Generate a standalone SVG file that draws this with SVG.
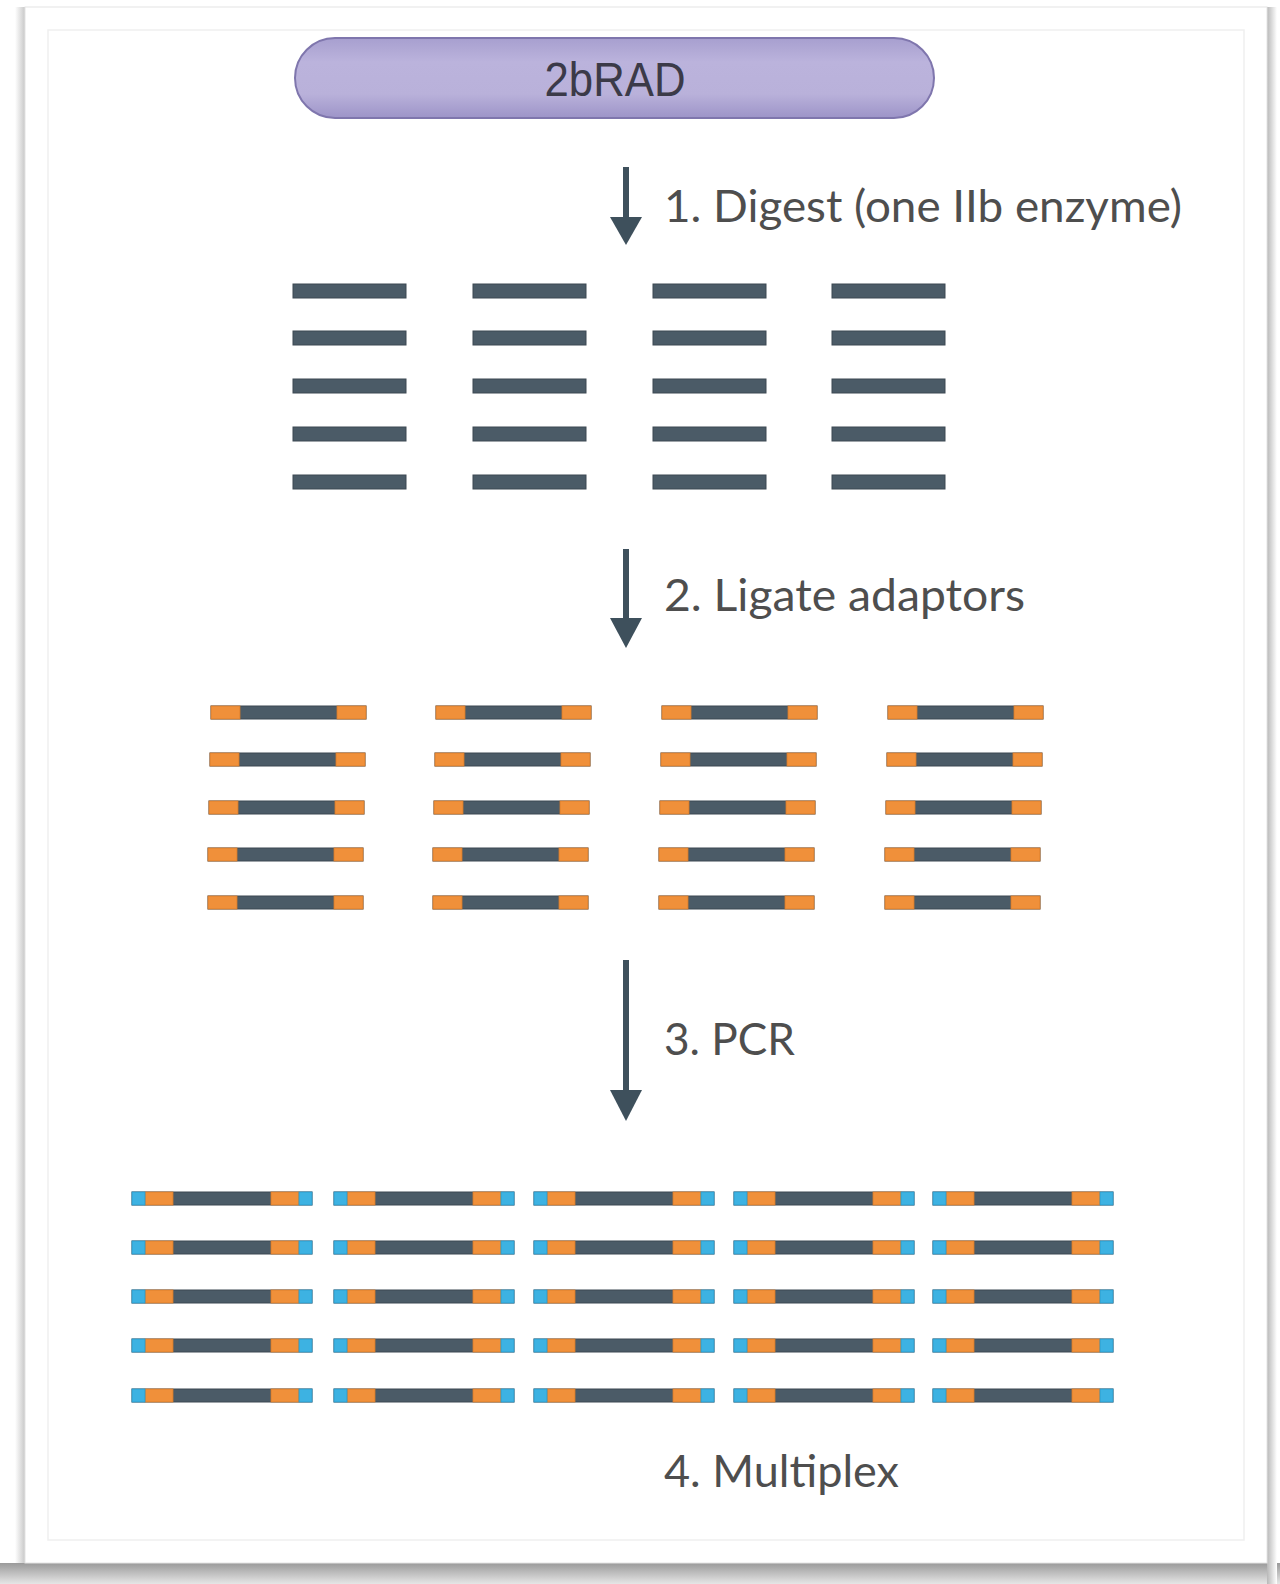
<svg xmlns="http://www.w3.org/2000/svg" width="1280" height="1584" viewBox="0 0 1280 1584">
<defs>
<linearGradient id="shadowB" x1="0" y1="0" x2="0" y2="1">
<stop offset="0" stop-color="#9a9a9a"/>
<stop offset="1" stop-color="#e6e6e6"/>
</linearGradient>
<linearGradient id="shadowR" x1="0" y1="0" x2="1" y2="0">
<stop offset="0" stop-color="#b8b8b8"/>
<stop offset="1" stop-color="#ffffff"/>
</linearGradient>
<linearGradient id="shadowL" x1="1" y1="0" x2="0" y2="0">
<stop offset="0" stop-color="#c8c8c8"/>
<stop offset="1" stop-color="#ffffff"/>
</linearGradient>
<linearGradient id="pillFill" x1="0" y1="0" x2="0" y2="1">
<stop offset="0" stop-color="#a79fcf"/>
<stop offset="0.3" stop-color="#bbb3dc"/>
<stop offset="0.7" stop-color="#b9b1da"/>
<stop offset="1" stop-color="#9d94c8"/>
</linearGradient>
<style>
.bar{fill:#4b5b67;stroke:#3c4953;stroke-width:1}
.org{fill:#f0903a;stroke:#d77a2a;stroke-width:0.8}
.blu{fill:#3db2e2;stroke:#2a9acb;stroke-width:0.8}
.lbl{font-family:Lato,"Open Sans","Liberation Sans",sans-serif;fill:#4e4e4e;font-size:44px}
.arr{fill:#3e505c}
</style>
<g id="dig"><rect class="bar" x="0" y="0" width="113" height="14"/></g>
<g id="lig"><rect class="bar" x="0" y="0" width="155" height="13"/><rect class="org" x="0" y="0" width="29" height="13"/><rect class="org" x="126" y="0" width="29" height="13"/></g>
<g id="pcr"><rect class="bar" x="0" y="0" width="180" height="13"/><rect class="org" x="13" y="0" width="28" height="13"/><rect class="org" x="139" y="0" width="28" height="13"/><rect class="blu" x="0" y="0" width="13" height="13"/><rect class="blu" x="167" y="0" width="13" height="13"/></g>
</defs>

<!-- background / frame -->
<rect x="0" y="0" width="1280" height="1584" fill="#ffffff"/>
<rect x="0" y="1563" width="1280" height="21" fill="url(#shadowB)"/>
<rect x="1267" y="7" width="10" height="1577" fill="url(#shadowR)"/>
<rect x="15" y="7" width="10" height="1556" fill="url(#shadowL)"/>
<rect x="25" y="7" width="1242" height="1556" fill="#ffffff" stroke="#e4e4e4" stroke-width="1"/>
<rect x="48" y="30" width="1196" height="1510" fill="#ffffff" stroke="#efefef" stroke-width="1.5"/>

<!-- title pill -->
<g id="title">
<rect x="295" y="38" width="639" height="80" rx="40" ry="40" fill="url(#pillFill)" stroke="#7f76ad" stroke-width="2"/>
<text x="615" y="96" text-anchor="middle" font-family="Liberation Sans,Arial,sans-serif" font-size="48" fill="#3b3a48" textLength="141" lengthAdjust="spacingAndGlyphs">2bRAD</text>
</g>

<!-- connectors (step arrows) -->
<g id="connectors">
<rect class="arr" x="623" y="167" width="6" height="56"/>
<polygon class="arr" points="610,217 642,217 626,245"/>
<rect class="arr" x="623" y="549" width="6" height="75"/>
<polygon class="arr" points="610,618 642,618 626,648"/>
<rect class="arr" x="623" y="960" width="6" height="136"/>
<polygon class="arr" points="610,1090 642,1090 626,1121"/>
</g>

<g id="step1-label"><text class="lbl" x="664" y="222" textLength="518" lengthAdjust="spacingAndGlyphs">1. Digest (one IIb enzyme)</text></g>
<g id="step2-label"><text class="lbl" x="664" y="611" textLength="361" lengthAdjust="spacingAndGlyphs">2. Ligate adaptors</text></g>
<g id="step3-label"><text class="lbl" x="664" y="1055" textLength="131" lengthAdjust="spacingAndGlyphs">3. PCR</text></g>
<g id="step4-label"><text class="lbl" x="664" y="1487" textLength="235" lengthAdjust="spacingAndGlyphs">4. Multiplex</text></g>

<!-- digested fragments -->
<g id="digest-fragments">
<use href="#dig" x="293" y="284"/><use href="#dig" x="473" y="284"/><use href="#dig" x="653" y="284"/><use href="#dig" x="832" y="284"/>
<use href="#dig" x="293" y="331"/><use href="#dig" x="473" y="331"/><use href="#dig" x="653" y="331"/><use href="#dig" x="832" y="331"/>
<use href="#dig" x="293" y="379"/><use href="#dig" x="473" y="379"/><use href="#dig" x="653" y="379"/><use href="#dig" x="832" y="379"/>
<use href="#dig" x="293" y="427"/><use href="#dig" x="473" y="427"/><use href="#dig" x="653" y="427"/><use href="#dig" x="832" y="427"/>
<use href="#dig" x="293" y="475"/><use href="#dig" x="473" y="475"/><use href="#dig" x="653" y="475"/><use href="#dig" x="832" y="475"/>
</g>

<!-- ligated fragments -->
<g id="ligated-fragments">
<use href="#lig" x="211" y="706"/><use href="#lig" x="436" y="706"/><use href="#lig" x="662" y="706"/><use href="#lig" x="888" y="706"/>
<use href="#lig" x="210" y="753"/><use href="#lig" x="435" y="753"/><use href="#lig" x="661" y="753"/><use href="#lig" x="887" y="753"/>
<use href="#lig" x="209" y="801"/><use href="#lig" x="434" y="801"/><use href="#lig" x="660" y="801"/><use href="#lig" x="886" y="801"/>
<use href="#lig" x="208" y="848"/><use href="#lig" x="433" y="848"/><use href="#lig" x="659" y="848"/><use href="#lig" x="885" y="848"/>
<use href="#lig" x="208" y="896"/><use href="#lig" x="433" y="896"/><use href="#lig" x="659" y="896"/><use href="#lig" x="885" y="896"/>
</g>

<!-- PCR products -->
<g id="pcr-products">
<use href="#pcr" x="132" y="1192"/><use href="#pcr" x="334" y="1192"/><use href="#pcr" x="534" y="1192"/><use href="#pcr" x="734" y="1192"/><use href="#pcr" x="933" y="1192"/>
<use href="#pcr" x="132" y="1241"/><use href="#pcr" x="334" y="1241"/><use href="#pcr" x="534" y="1241"/><use href="#pcr" x="734" y="1241"/><use href="#pcr" x="933" y="1241"/>
<use href="#pcr" x="132" y="1290"/><use href="#pcr" x="334" y="1290"/><use href="#pcr" x="534" y="1290"/><use href="#pcr" x="734" y="1290"/><use href="#pcr" x="933" y="1290"/>
<use href="#pcr" x="132" y="1339"/><use href="#pcr" x="334" y="1339"/><use href="#pcr" x="534" y="1339"/><use href="#pcr" x="734" y="1339"/><use href="#pcr" x="933" y="1339"/>
<use href="#pcr" x="132" y="1389"/><use href="#pcr" x="334" y="1389"/><use href="#pcr" x="534" y="1389"/><use href="#pcr" x="734" y="1389"/><use href="#pcr" x="933" y="1389"/>
</g>
</svg>
